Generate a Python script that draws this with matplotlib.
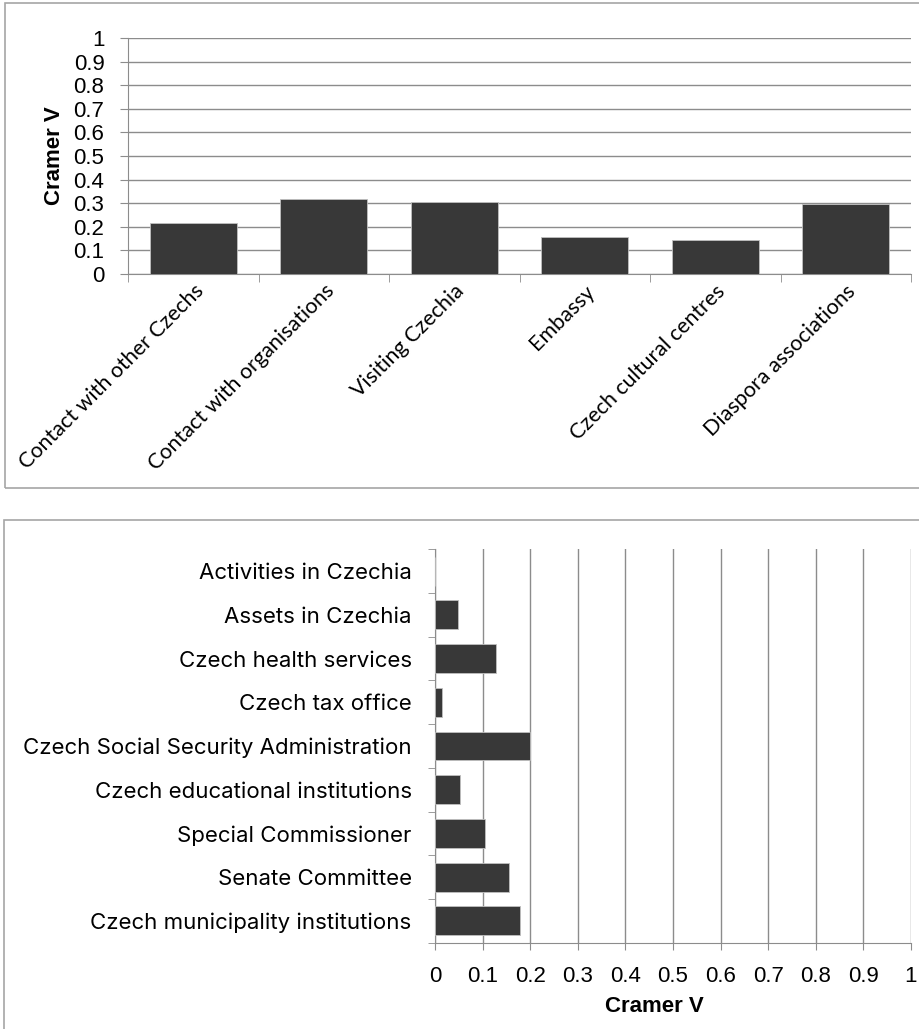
import matplotlib
matplotlib.use("Agg")
import matplotlib.pyplot as plt
from matplotlib.patches import Rectangle
import numpy as np

# top chart: contact / visits
top_cats = ["Contact with other Czechs", "Contact with organisations", "Visiting Czechia",
            "Embassy", "Czech cultural centres", "Diaspora associations"]
top_vals = [0.215, 0.319, 0.305, 0.155, 0.143, 0.298]

# bottom chart: institutions
bot_cats = ["Activities in Czechia", "Assets in Czechia", "Czech health services",
            "Czech tax office", "Czech Social Security Administration",
            "Czech educational institutions", "Special Commissioner",
            "Senate Committee", "Czech municipality institutions"]
bot_vals = [0.0, 0.048, 0.128, 0.015, 0.200, 0.053, 0.105, 0.156, 0.178]

ticks = [0, 0.1, 0.2, 0.3, 0.4, 0.5, 0.6, 0.7, 0.8, 0.9, 1]
tick_labels = ["0", "0.1", "0.2", "0.3", "0.4", "0.5", "0.6", "0.7", "0.8", "0.9", "1"]

BAR = "#383838"
GRID = "#8c8c8c"
NUMFONT = "Liberation Sans"

W, H = 919, 1029
fig = plt.figure(figsize=(W / 100, H / 100), dpi=100)

# panel borders
fig.add_artist(Rectangle((5 / W, 1 - 488 / H), 930 / W, 485 / H, transform=fig.transFigure,
                         fill=False, edgecolor="#a6a6a6", lw=1.2))
fig.add_artist(Rectangle((4 / W, -0.05), 930 / W, 0.05 + (1029 - 520) / H, transform=fig.transFigure,
                         fill=False, edgecolor="#a6a6a6", lw=1.2))

# ---- top chart ----
ax1 = fig.add_axes([128 / W, 1 - 274 / H, (911 - 128) / W, (274 - 38) / H])
x = np.arange(len(top_cats))
ax1.bar(x, top_vals, width=0.67, color=BAR, edgecolor="#bfbfbf", linewidth=0.6, zorder=3)
ax1.set_xlim(-0.5, len(top_cats) - 0.5)
ax1.set_ylim(0, 1)
ax1.set_yticks(ticks)
ax1.set_yticklabels(tick_labels, fontfamily=NUMFONT, fontsize=16)
ax1.yaxis.grid(True, color=GRID, lw=1, zorder=0)
ax1.set_xticks(x)
ax1.set_xticklabels(top_cats, rotation=45, ha="right", rotation_mode="anchor",
                    fontfamily="Lato", fontsize=15.5)
ax1.set_xticks(np.arange(len(top_cats) + 1) - 0.5, minor=True)
ax1.tick_params(axis="x", which="major", length=0, pad=5)
ax1.tick_params(axis="x", which="minor", length=6, color=GRID, direction="out")
ax1.tick_params(axis="y", length=6, color=GRID, pad=11)
for s in ["top", "right"]:
    ax1.spines[s].set_visible(False)
for s in ["left", "bottom"]:
    ax1.spines[s].set_color(GRID)
ax1.set_ylabel("Cramer V", fontfamily=NUMFONT, fontsize=16, fontweight="bold", labelpad=6)

# ---- bottom chart ----
ax2 = fig.add_axes([435.3 / W, 1 - 942.7 / H, (910.7 - 435.3) / W, (942.7 - 549.3) / H])
y = np.arange(len(bot_cats))
ax2.barh(y, bot_vals, height=0.66, color=BAR, edgecolor="#bfbfbf", linewidth=0.6, zorder=3)
ax2.set_ylim(len(bot_cats) - 0.5, -0.5)
ax2.set_xlim(0, 1)
ax2.set_xticks(ticks)
ax2.set_xticklabels(tick_labels, fontfamily=NUMFONT, fontsize=16)
ax2.xaxis.grid(True, color=GRID, lw=1, zorder=0)
ax2.set_yticks(y)
ax2.set_yticklabels(bot_cats, fontfamily="Inter", fontsize=16)
ax2.set_yticks(np.arange(len(bot_cats) + 1) - 0.5, minor=True)
ax2.tick_params(axis="y", which="major", length=0, pad=17)
ax2.tick_params(axis="y", which="minor", length=5, color=GRID, direction="out")
ax2.tick_params(axis="x", length=5, color=GRID, pad=12)
for s in ["top", "right"]:
    ax2.spines[s].set_visible(False)
for s in ["left", "bottom"]:
    ax2.spines[s].set_color(GRID)
ax2.set_xlabel("Cramer V", fontfamily=NUMFONT, fontsize=16, fontweight="bold")
ax2.xaxis.set_label_coords(0.46, -0.135)

fig.savefig("out.png", dpi=100)
